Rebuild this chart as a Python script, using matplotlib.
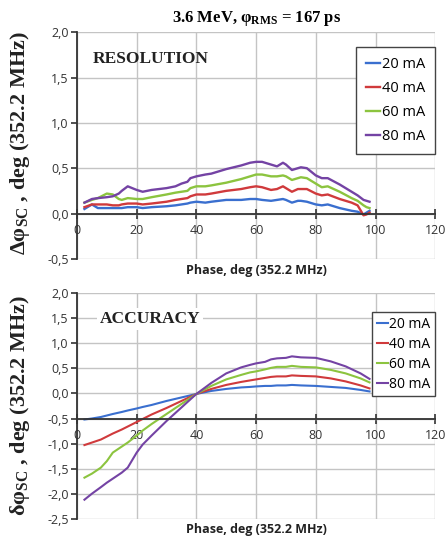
import numpy as np
import matplotlib.pyplot as plt
from matplotlib.ticker import FuncFormatter

plt.rcParams['mathtext.default'] = 'regular'

series = ['20 mA', '40 mA', '60 mA', '80 mA']
colors = ['#3a6fcf', '#d03a3c', '#8cc43f', '#7443a4']

# resolution (top panel)
x_res = [2.5, 5, 7, 10, 12, 14, 15, 17, 20, 22, 25, 30, 33, 35, 37, 38, 40, 43, 45, 50,
         55, 58, 60, 62, 65, 67, 69, 70, 72, 74, 75, 77, 80, 82, 84, 88, 92, 94, 96, 97, 98]
res_20 = [0.05, 0.10, 0.06, 0.06, 0.06, 0.06, 0.06, 0.07, 0.07, 0.06, 0.07, 0.08, 0.09, 0.10,
          0.11, 0.12, 0.13, 0.12, 0.13, 0.15, 0.15, 0.16, 0.16, 0.15, 0.14, 0.15, 0.16, 0.15,
          0.12, 0.14, 0.14, 0.13, 0.10, 0.09, 0.10, 0.06, 0.03, 0.02, -0.01, 0.01, 0.03]
res_40 = [0.07, 0.10, 0.10, 0.10, 0.09, 0.09, 0.10, 0.11, 0.11, 0.10, 0.11, 0.13, 0.15, 0.16,
          0.17, 0.19, 0.21, 0.21, 0.22, 0.25, 0.27, 0.29, 0.30, 0.29, 0.26, 0.27, 0.30, 0.28,
          0.24, 0.27, 0.27, 0.27, 0.22, 0.20, 0.21, 0.16, 0.12, 0.09, -0.02, -0.01, 0.01]
res_60 = [0.12, 0.15, 0.17, 0.22, 0.21, 0.16, 0.15, 0.17, 0.16, 0.16, 0.18, 0.21, 0.23, 0.24,
          0.25, 0.28, 0.30, 0.30, 0.31, 0.34, 0.38, 0.41, 0.43, 0.43, 0.41, 0.41, 0.42, 0.41,
          0.37, 0.39, 0.40, 0.39, 0.33, 0.29, 0.30, 0.24, 0.17, 0.14, 0.09, 0.07, 0.06]
res_80 = [0.12, 0.16, 0.17, 0.18, 0.19, 0.22, 0.25, 0.30, 0.26, 0.24, 0.26, 0.28, 0.30, 0.33,
          0.35, 0.39, 0.41, 0.43, 0.44, 0.49, 0.53, 0.56, 0.57, 0.57, 0.54, 0.52, 0.56, 0.54,
          0.48, 0.50, 0.51, 0.50, 0.42, 0.39, 0.39, 0.32, 0.24, 0.20, 0.15, 0.14, 0.13]

# accuracy (bottom panel)
x_acc = [2.5, 5, 8, 10, 12, 15, 17, 20, 22, 25, 30, 35, 40, 45, 50, 55, 58, 60, 63, 65,
         67, 70, 72, 75, 80, 85, 90, 95, 98]
acc_20 = [-0.52, -0.50, -0.47, -0.44, -0.41, -0.37, -0.34, -0.30, -0.27, -0.23, -0.15, -0.08,
          -0.01, 0.05, 0.09, 0.12, 0.13, 0.14, 0.15, 0.15, 0.16, 0.16, 0.17, 0.16, 0.15, 0.13,
          0.11, 0.07, 0.04]
acc_40 = [-1.03, -0.98, -0.92, -0.86, -0.80, -0.72, -0.66, -0.57, -0.51, -0.42, -0.29, -0.15,
          -0.01, 0.09, 0.17, 0.23, 0.26, 0.28, 0.31, 0.33, 0.34, 0.34, 0.36, 0.35, 0.34, 0.30,
          0.24, 0.16, 0.10]
acc_60 = [-1.68, -1.60, -1.48, -1.35, -1.18, -1.06, -0.98, -0.84, -0.74, -0.61, -0.41, -0.21,
          -0.01, 0.15, 0.28, 0.37, 0.42, 0.44, 0.48, 0.51, 0.53, 0.53, 0.55, 0.53, 0.52, 0.47,
          0.40, 0.30, 0.22]
acc_80 = [-2.12, -2.00, -1.87, -1.78, -1.70, -1.58, -1.48, -1.18, -1.02, -0.84, -0.55, -0.28,
          -0.01, 0.21, 0.40, 0.52, 0.57, 0.60, 0.63, 0.68, 0.70, 0.71, 0.74, 0.72, 0.71, 0.64,
          0.54, 0.40, 0.29]

sans = 'Open Sans'
serif = 'Liberation Serif'
comma = FuncFormatter(lambda v, p: ('%.1f' % v).replace('.', ','))
intfmt = FuncFormatter(lambda v, p: '%d' % v)

fig = plt.figure(figsize=(4.45, 5.37), dpi=100)
ax1 = fig.add_axes([0.173, 0.518, 0.805, 0.422])
ax2 = fig.add_axes([0.173, 0.034, 0.805, 0.420])


def style(ax, ylo, yhi, xcross, lfs):
    ax.set_xlim(0, 120)
    ax.set_ylim(ylo, yhi)
    ax.set_xticks(np.arange(0, 121, 20))
    ax.set_yticks(np.arange(ylo, yhi + 0.01, 0.5))
    ax.xaxis.set_major_formatter(intfmt)
    ax.yaxis.set_major_formatter(comma)
    ax.grid(True, color='#c4c4c4', lw=1.0)
    ax.set_axisbelow(True)
    for s in ['top', 'right']:
        ax.spines[s].set_visible(False)
    ax.spines['left'].set_color('#333333')
    ax.spines['left'].set_linewidth(1.3)
    ax.spines['bottom'].set_position(('data', xcross))
    ax.spines['bottom'].set_color('#333333')
    ax.spines['bottom'].set_linewidth(1.3)
    ax.tick_params(axis='x', direction='inout', length=7, width=1.2, color='#333333',
                   pad=4, labelsize=lfs)
    ax.tick_params(axis='y', direction='out', length=4, width=1.2, color='#333333',
                   pad=2, labelsize=lfs)
    for lab in ax.get_xticklabels() + ax.get_yticklabels():
        lab.set_family(sans)
        lab.set_color('#333333')


for ys, c, n in zip([res_20, res_40, res_60, res_80], colors, series):
    ax1.plot(x_res, ys, color=c, lw=1.7, label=n)
for ys, c, n in zip([acc_20, acc_40, acc_60, acc_80], colors, series):
    ax2.plot(x_acc, ys, color=c, lw=1.5, label=n)

style(ax1, -0.5, 2.0, 0.0, 9)
style(ax2, -2.5, 2.0, -0.5, 9)

leg1 = ax1.legend(loc='upper right', bbox_to_anchor=(1.0, 0.934), borderaxespad=0,
                  handlelength=1.0, handletextpad=0.1, labelspacing=0.6, borderpad=0.7,
                  fancybox=False, edgecolor='#444444', framealpha=1,
                  prop={'family': sans, 'size': 10.5})
leg1.get_frame().set_linewidth(1.0)
leg2 = ax2.legend(loc='upper right', bbox_to_anchor=(1.0, 0.916), borderaxespad=0,
                  handlelength=0.8, handletextpad=0.1, labelspacing=0.35, borderpad=0.35,
                  fancybox=False, edgecolor='#444444', framealpha=1,
                  prop={'family': sans, 'size': 10})
leg2.get_frame().set_linewidth(1.0)

ax1.text(5.4, 1.71, 'RESOLUTION', family=serif, weight='bold', fontsize=12.5,
         va='center', ha='left', color='#222222')
ax2.text(7.5, 1.49, 'ACCURACY', family=serif, weight='bold', fontsize=12.5,
         va='center', ha='left', color='#222222',
         bbox=dict(facecolor='white', edgecolor='none', pad=2))

fig.text(0.576, 0.966, r'3.6 MeV, φ$_{RMS}$ = 167 ps', family=serif, weight='bold',
         fontsize=12, ha='center', va='center')
fig.text(0.576, 0.497, 'Phase, deg (352.2 MHz)', family=sans, weight='bold',
         fontsize=9, ha='center', va='center', color='#222222')
fig.text(0.576, 0.014, 'Phase, deg (352.2 MHz)', family=sans, weight='bold',
         fontsize=9, ha='center', va='center', color='#222222')
fig.text(0.045, 0.733, r'Δφ$_{SC}$ , deg (352.2 MHz)', family=serif, weight='bold',
         fontsize=16, rotation=90, ha='center', va='center', color='#222222')
fig.text(0.045, 0.245, r'δφ$_{SC}$ , deg (352.2 MHz)', family=serif, weight='bold',
         fontsize=16, rotation=90, ha='center', va='center', color='#222222')

fig.savefig('out.png', dpi=100)
